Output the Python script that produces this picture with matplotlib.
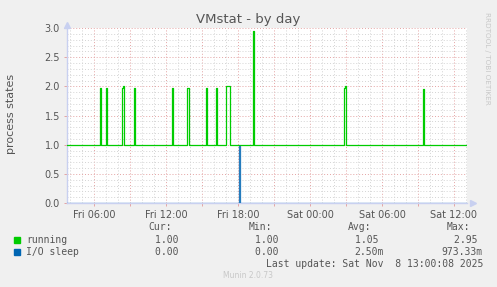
import pandas as pd
import matplotlib
matplotlib.use("Agg")
import matplotlib.pyplot as plt
import matplotlib.dates as mdates
from matplotlib.ticker import MultipleLocator, FuncFormatter

# time window of the graph (5 minute samples)
t_start = "2025-11-07 03:45"
t_end = "2025-11-08 13:05"

# running: sits at 1.0, with these short spikes
run_spike_times = ["2025-11-07 06:30", "2025-11-07 07:00", "2025-11-07 08:20",
                   "2025-11-07 08:25", "2025-11-07 09:20", "2025-11-07 12:30",
                   "2025-11-07 13:45", "2025-11-07 13:50", "2025-11-07 15:20",
                   "2025-11-07 16:10", "2025-11-07 17:00", "2025-11-07 17:05",
                   "2025-11-07 17:10", "2025-11-07 17:15", "2025-11-07 19:15",
                   "2025-11-08 02:50", "2025-11-08 02:55", "2025-11-08 09:25"]
run_spike_vals = [1.97, 1.97, 1.98, 2.0, 1.97, 1.97,
                  1.98, 1.98, 1.97, 1.97, 2.0, 2.0,
                  2.0, 2.0, 2.95, 1.98, 2.0, 1.96]
run_base = 1.0

# I/O sleep: 0 except one spike
io_spike_times = ["2025-11-07 18:05"]
io_spike_vals = [0.97]
io_base = 0.0

legend_names = ["running", "I/O sleep"]
legend_colors = ["#00CC00", "#0066B3"]
legend_cur = ["1.00 ", "0.00 "]
legend_min = ["1.00 ", "0.00 "]
legend_avg = ["1.05 ", "2.50m"]
legend_max = ["2.95 ", "973.33m"]

idx = pd.date_range(t_start, t_end, freq="5min")
running = pd.Series(run_base, index=idx)
running[pd.to_datetime(run_spike_times)] = run_spike_vals
iosleep = pd.Series(io_base, index=idx)
iosleep[pd.to_datetime(io_spike_times)] = io_spike_vals

W, H = 497, 287
fig = plt.figure(figsize=(W / 100, H / 100), dpi=100, facecolor="#F0F0F0")

def fx(px):
  return px / W

def fy(py):
  return 1 - py / H

ax = fig.add_axes([fx(67), fy(203), fx(467) - fx(67), fy(28) - fy(203)])
ax.set_facecolor("white")

txt = "#555555"

ax.plot(running.index, running.values, drawstyle="steps-post",
        color=legend_colors[0], lw=0.9, zorder=3)
ax.plot(iosleep.index, iosleep.values, drawstyle="steps-post",
        color=legend_colors[1], lw=0.9, alpha=0.85, zorder=4)

ax.set_xlim(pd.Timestamp(t_start), pd.Timestamp(t_end))
ax.set_ylim(0, 3.0)

ax.xaxis.set_major_locator(mdates.HourLocator(byhour=range(0, 24, 3)))
ax.xaxis.set_minor_locator(mdates.HourLocator())

def xfmt(v, pos):
  d = mdates.num2date(v)
  if d.hour % 6 == 0:
    return d.strftime("%a %H:%M")
  return ""

ax.xaxis.set_major_formatter(FuncFormatter(xfmt))
ax.yaxis.set_major_locator(MultipleLocator(0.5))
ax.yaxis.set_minor_locator(MultipleLocator(0.1))
ax.yaxis.set_major_formatter(FuncFormatter(lambda v, p: "%.1f" % v))

ax.grid(which="minor", color="#D4D4D4", lw=0.7, ls=(0, (1, 2)))
ax.grid(which="major", color="#E4A4A4", lw=0.7, ls=(0, (1, 2)))
ax.set_axisbelow(True)

ax.tick_params(which="both", colors="#E4A4A4", labelcolor=txt, labelsize=7)
ax.tick_params(which="major", length=2, width=0.7, pad=3)
ax.tick_params(which="minor", length=0)

for s in ["top", "right"]:
  ax.spines[s].set_visible(False)
for s in ["left", "bottom"]:
  ax.spines[s].set_color("#C8D0F0")
  ax.spines[s].set_linewidth(1.0)

# axis arrows
ax.plot([0], [1.02], marker="^", ms=5, color="#C8D0F0", transform=ax.transAxes,
        clip_on=False)
ax.plot([1.015], [0], marker=">", ms=5, color="#C8D0F0", transform=ax.transAxes,
        clip_on=False)

fig.text(fx(11), fy(114), "process states", rotation=90, ha="center", va="center",
         fontsize=8, color=txt)

fig.text(fx(248), fy(19), "VMstat - by day", ha="center", va="center",
         fontsize=9.5, color=txt)
fig.text(fx(487), fy(58), "RRDTOOL / TOBI OETIKER", rotation=270,
         ha="center", va="center", fontsize=5.2, color="#C8C8C8")

mono = "DejaVu Sans Mono"
fs = 7
head_y = 227.5
for x, s in zip([172, 272, 371, 470], ["Cur:", "Min:", "Avg:", "Max:"]):
  fig.text(fx(x), fy(head_y), s, ha="right", va="center", family=mono,
           fontsize=fs, color=txt)

row_y = [240, 252]
for i, name in enumerate(legend_names):
  y = row_y[i]
  fig.patches.append(plt.Rectangle((fx(14), fy(y + 3)), fx(6), fy(y - 3) - fy(y + 3),
                                   transform=fig.transFigure, color=legend_colors[i]))
  fig.text(fx(26), fy(y), name, ha="left", va="center", family=mono,
           fontsize=fs, color=txt)
  for x, vals in zip([184, 284, 384, 483], [legend_cur, legend_min, legend_avg, legend_max]):
    fig.text(fx(x), fy(y), vals[i], ha="right", va="center", family=mono,
             fontsize=fs, color=txt)

fig.text(fx(483), fy(264), "Last update: Sat Nov  8 13:00:08 2025", ha="right",
         va="center", family=mono, fontsize=fs, color=txt)
fig.text(fx(248), fy(276), "Munin 2.0.73", ha="center", va="center",
         fontsize=5.5, color="#C8C8C8")

fig.savefig("out.png", dpi=100, facecolor=fig.get_facecolor())
